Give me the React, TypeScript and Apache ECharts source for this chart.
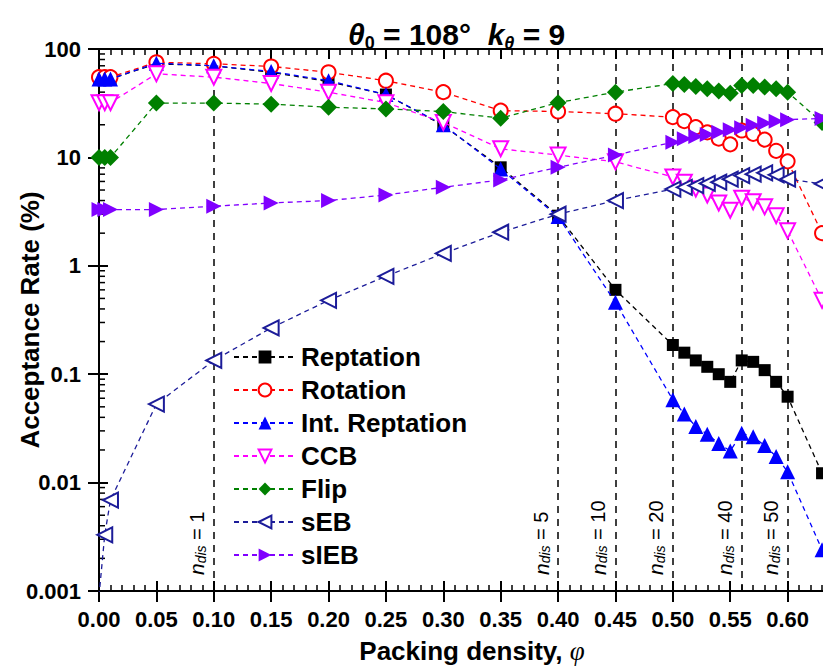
import React, { useEffect, useRef } from "react";
import * as echarts from "echarts";

const xValues = [0, 0.005, 0.01, 0.05, 0.1, 0.15, 0.2, 0.25, 0.3, 0.35, 0.4, 0.45, 0.5, 0.51, 0.52, 0.53, 0.54, 0.55, 0.56, 0.57, 0.58, 0.59, 0.6, 0.63];

const reptation = [53, 53, 53, 73, 70, 61, 50, 38, 19.7, 8.1, 2.9, 0.6, 0.186, 0.158, 0.134, 0.117, 0.1, 0.085, 0.134, 0.13, 0.109, 0.085, 0.062, 0.0122];
const rotation = [55, 55, 55, 75.5, 73, 69, 61, 51, 40, 27, 26.5, 25.3, 23.5, 21.6, 19, 17, 14.9, 13.2, 17.7, 16.5, 14.6, 11.5, 9.2, 2.0];
const intReptation = [53, 53, 53, 74, 70, 62, 51, 38, 20, 7.8, 2.85, 0.46, 0.058, 0.043, 0.033, 0.028, 0.023, 0.0196, 0.0285, 0.0265, 0.022, 0.0174, 0.0126, 0.0024];
const ccb = [32, 32, 32, 59, 55, 48, 40, 32, 21, 12, 10.5, 9.1, 6.6, 5.9, 5.1, 4.5, 3.8, 3.25, 4.2, 3.9, 3.5, 2.9, 2.1, 0.48];
const flip = [10, 10, 10, 31.7, 31.7, 31, 29, 28, 26.5, 23, 32, 40, 48, 47, 45, 43, 41, 39, 46, 46, 44.5, 43, 40, 21];
const seb = [0.0009, 0.0033, 0.0069, 0.053, 0.134, 0.267, 0.48, 0.8, 1.3, 2.04, 2.99, 4.0, 5.1, 5.3, 5.5, 5.75, 5.9, 6.3, 6.8, 7.0, 7.2, 6.9, 6.3, 5.7];
const sieb = [3.3, 3.3, 3.3, 3.3, 3.55, 3.8, 4.0, 4.5, 5.3, 6.2, 8.1, 10.5, 13.8, 14.9, 15.6, 16.3, 17.1, 18.0, 18.8, 19.8, 20.7, 21.6, 22.3, 22.9];

const vLineX = [0.1, 0.4, 0.45, 0.5, 0.56, 0.6];
const vLineN = [1, 5, 10, 20, 40, 50];

const decades = [0.001, 0.01, 0.1, 1, 10];
const minorMult = [2, 3, 4, 5, 6, 7, 8, 9];

const FONT = "Arial, 'Liberation Sans', sans-serif";

export default function App() {
  const ref = useRef<HTMLDivElement>(null);
  useEffect(() => {
    const chart = echarts.init(ref.current!, null, { renderer: "svg" });
    const pair = (arr: number[]) => xValues.map((x, i) => [x, arr[i]]);
    const dash = [5, 4];
    const mk = (name: string, arr: number[], color: string, symbol: string, size: number, rotate: number, z: number) => ({
      type: "line",
      name,
      data: pair(arr),
      symbol,
      symbolSize: size,
      symbolRotate: rotate,
      showAllSymbol: true,
      z,
      lineStyle: { color, width: 1.3, type: dash },
      itemStyle: { color, borderColor: color, borderWidth: symbol.startsWith("empty") ? 1.3 : 0 },
      emphasis: { disabled: true },
    });
    const minorData: number[][] = [];
    decades.forEach((d) => minorMult.forEach((m) => minorData.push([0, d * m])));

    const axisLbl = { fontFamily: FONT, fontWeight: "bold", fontSize: 22, color: "#000" };
    const option: any = {
      animation: false,
      backgroundColor: "#fff",
      title: {
        text: "{i|θ}{s|0}{t| = 108°  }{i|k}{si|θ}{t| = 9}",
        left: 343,
        top: 11,
        textStyle: {
          rich: {
            i: { fontFamily: FONT, fontWeight: "bold", fontStyle: "italic", fontSize: 30, lineHeight: 36, color: "#000", verticalAlign: "middle" },
            t: { fontFamily: FONT, fontWeight: "bold", fontSize: 30, lineHeight: 36, color: "#000", verticalAlign: "middle" },
            s: { fontFamily: FONT, fontWeight: "bold", fontSize: 18, lineHeight: 18, color: "#000", verticalAlign: "bottom" },
            si: { fontFamily: FONT, fontWeight: "bold", fontStyle: "italic", fontSize: 18, lineHeight: 18, color: "#000", verticalAlign: "bottom" },
          },
        },
      },
      legend: {
        orient: "vertical",
        left: 228,
        top: 339,
        itemWidth: 62,
        itemHeight: 16,
        itemGap: 7,
        textStyle: { fontFamily: FONT, fontWeight: "bold", fontSize: 26, color: "#000" },
        data: ["Reptation", "Rotation", "Int. Reptation", "CCB", "Flip", "sEB", "sIEB"],
      },
      grid: { left: 99, right: 1, top: 49, bottom: 76, outerBoundsMode: "none", containLabel: false },
      xAxis: [
        {
          type: "value", position: "bottom", min: 0, max: 0.65, interval: 0.05,
          axisLine: { lineStyle: { color: "#000", width: 2 } },
          axisTick: { inside: false, length: 11, lineStyle: { color: "#000", width: 2 } },
          minorTick: { show: false },
          splitLine: { show: false },
          axisLabel: { ...axisLbl, margin: 17, formatter: (v: number) => (v > 0.62 ? "" : v.toFixed(2)) },
          name: "{t|Packing density, }{i|φ}",
          nameLocation: "middle",
          nameGap: 46,
          nameMoveOverlap: false,
          nameTextStyle: {
            rich: {
              t: { fontFamily: FONT, fontWeight: "bold", fontSize: 26, color: "#000" },
              i: { fontFamily: "'Liberation Serif', serif", fontStyle: "italic", fontSize: 27, color: "#000" },
            },
          },
        },
        {
          type: "value", position: "bottom", min: 0, max: 0.65, interval: 0.05,
          axisLine: { show: false },
          axisTick: { inside: true, length: 10, lineStyle: { color: "#000", width: 2 } },
          minorTick: { show: true, splitNumber: 5, length: 6, lineStyle: { color: "#000", width: 1.5 } },
          splitLine: { show: false },
          axisLabel: { show: false },
        },
        {
          type: "value", position: "top", min: 0, max: 0.65, interval: 0.05,
          axisLine: { lineStyle: { color: "#000", width: 2 } },
          axisTick: { inside: true, length: 10, lineStyle: { color: "#000", width: 2 } },
          minorTick: { show: true, splitNumber: 5, length: 6, lineStyle: { color: "#000", width: 1.5 } },
          splitLine: { show: false },
          axisLabel: { show: false },
        },
      ],
      yAxis: [
        {
          type: "log", logBase: 10, min: 0.001, max: 100,
          axisLine: { show: true, lineStyle: { color: "#000", width: 2 } },
          axisTick: { show: true, inside: false, length: 11, lineStyle: { color: "#000", width: 2 } },
          splitLine: { show: false },
          axisLabel: { ...axisLbl, margin: 18, formatter: (v: number) => String(v) },
          name: "Acceptance Rate (%)",
          nameLocation: "middle",
          nameGap: 56,
          nameMoveOverlap: false,
          nameTextStyle: { fontFamily: FONT, fontWeight: "bold", fontSize: 26, color: "#000" },
        },
        {
          type: "log", logBase: 10, min: 0.001, max: 100, position: "left",
          axisLine: { show: false },
          axisTick: { show: true, inside: true, length: 9, lineStyle: { color: "#000", width: 2 } },
          splitLine: { show: false },
          axisLabel: { show: false },
        },
      ],
      series: [
        {
          type: "custom",
          name: "__minorY",
          silent: true,
          data: minorData,
          renderItem: (_p: any, api: any) => {
            const c = api.coord([0, api.value(1)]);
            return { type: "line", shape: { x1: c[0], y1: c[1], x2: c[0] + 6, y2: c[1] }, style: { stroke: "#000", lineWidth: 1.5 } };
          },
          z: 5,
        },
        {
          type: "line",
          name: "__vlines",
          data: [],
          silent: true,
          z: 1,
          markLine: {
            silent: true,
            symbol: ["none", "none"],
            animation: false,
            lineStyle: { color: "#000", width: 1.5, type: [7, 6] },
            label: {
              show: true,
              position: "insideStartTop",
              distance: [16, 6],
              rich: {
                n: { fontFamily: FONT, fontStyle: "italic", fontSize: 21, lineHeight: 22, color: "#000", verticalAlign: "middle" },
                d: { fontFamily: FONT, fontStyle: "italic", fontSize: 14, lineHeight: 13, color: "#000", verticalAlign: "bottom" },
                e: { fontFamily: FONT, fontSize: 20, lineHeight: 22, color: "#000", verticalAlign: "middle" },
              },
            },
            data: vLineX.map((x, i) => ({ xAxis: x, label: { formatter: `{n|n}{d|dis}{e| = ${vLineN[i]}}` } })),
          },
        },
        mk("Reptation", reptation, "#000000", "rect", 12, 0, 10),
        mk("Rotation", rotation, "#ff0000", "emptyCircle", 14, 0, 11),
        mk("Int. Reptation", intReptation, "#0000ff", "triangle", 15, 0, 12),
        mk("CCB", ccb, "#ff00ff", "emptyTriangle", 15, 180, 13),
        mk("Flip", flip, "#008000", "diamond", 17, 0, 14),
        mk("sEB", seb, "#1c1c99", "emptyTriangle", 15, 90, 15),
        mk("sIEB", sieb, "#8000ff", "triangle", 15, -90, 16),
      ],
    };
    chart.setOption(option);
    return () => chart.dispose();
  }, []);
  return (
    <div style={{ position: "fixed", left: 0, top: 0, width: 823, height: 667, overflow: "hidden", background: "#fff" }}>
      <div ref={ref} style={{ width: 846, height: 667 }} />
    </div>
  );
}
